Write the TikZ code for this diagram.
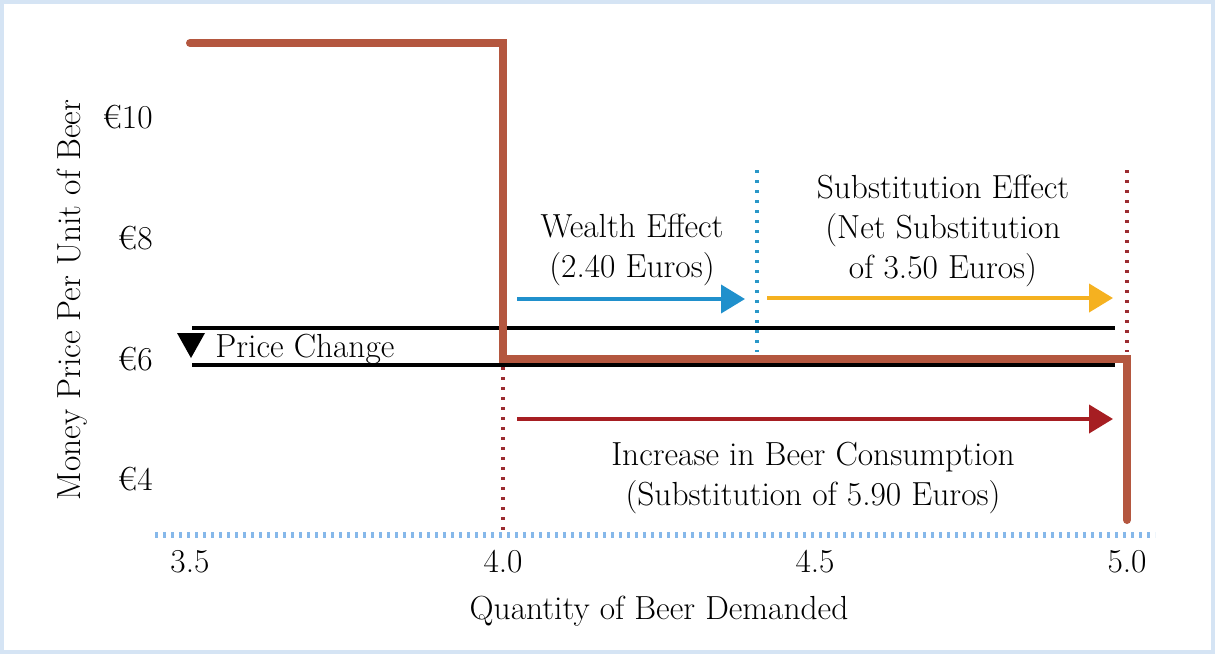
\documentclass[tikz,border=0pt]{standalone}
\usepackage{fontspec}
\usetikzlibrary{arrows.meta}
\definecolor{framebg}{HTML}{D5E4F4}
\definecolor{stepred}{HTML}{B4573F}
\definecolor{axisblue}{HTML}{86B8EA}
\definecolor{dotred}{HTML}{9B2B30}
\definecolor{dotblue}{HTML}{2A97C8}
\definecolor{wealthblue}{HTML}{2090CC}
\definecolor{substyellow}{HTML}{F5B120}
\definecolor{consred}{HTML}{A61E22}
\begin{document}
\begin{tikzpicture}[
        x=0.5pt, y=-0.5pt,
        font=\fontsize{16.7}{20}\selectfont
    ]
    \tikzset{
        lbl/.style = {inner sep=0pt, align=center, anchor=base},
        tick/.style = {inner sep=0pt, anchor=base},
        stepline/.style = {line width=4pt, stepred, line cap=round, line join=miter},
        dotline/.style = {line width=1.75pt, dash pattern=on 1.65pt off 3.35pt},
        axisline/.style = {line width=3pt, axisblue, dash pattern=on 1.7pt off 2.3pt},
        priceline/.style = {line width=2pt, black},
        effect/.style = {line width=2pt, -{Triangle[length=12pt, width=14pt]}},
    }
    \useasboundingbox (0,0) rectangle (1215,654);
    \fill[framebg] (0,0) rectangle (1215,654);
    \fill[white] (4,4) rectangle (1211,650);
    %
    \coordinate (ax0) at (155,535);
    \coordinate (ax1) at (1155,535);
    \draw[axisline] (ax0) -- (ax1);
    %
    \node[tick, anchor=base east] at (153,128) (p10) {€10};
    \node[tick, anchor=base east] at (153,249) (p8) {€8};
    \node[tick, anchor=base east] at (153,370) (p6) {€6};
    \node[tick, anchor=base east] at (153,490) (p4) {€4};
    \node[tick, rotate=90] at (80,300) (ylab) {Money Price Per Unit of Beer};
    %
    \node[tick] at (190,572) (q35) {3.5};
    \node[tick] at (503,572) (q40) {4.0};
    \node[tick] at (815,572) (q45) {4.5};
    \node[tick] at (1127,572) (q50) {5.0};
    \node[tick] at (659,619) (xlab) {Quantity of Beer Demanded};
    %
    \coordinate (pa0) at (192,328);
    \coordinate (pa1) at (1115,328);
    \coordinate (pb0) at (192,365);
    \coordinate (pb1) at (1115,365);
    \draw[priceline] (pa0) -- (pa1);
    \draw[priceline] (pb0) -- (pb1);
    \fill (177,333) -- (205,333) -- (191,358) -- cycle;
    \node[tick, anchor=base west] at (215,357) (pc) {Price Change};
    %
    \coordinate (da0) at (503,367);
    \coordinate (da1) at (503,530);
    \coordinate (db0) at (1127,170);
    \coordinate (db1) at (1127,352);
    \coordinate (dc0) at (757,170);
    \coordinate (dc1) at (757,352);
    \draw[dotline, dotred] (da0) -- (da1);
    \draw[dotline, dotred] (db0) -- (db1);
    \draw[dotline, dotblue] (dc0) -- (dc1);
    %
    \coordinate (s0) at (190,43);
    \coordinate (s1) at (503,43);
    \coordinate (s2) at (503,359);
    \coordinate (s3) at (1127,359);
    \coordinate (s4) at (1127,520);
    \draw[stepline] (s0) -- (s1) -- (s2) -- (s3) -- (s4);
    %
    \coordinate (w0) at (517,299);
    \coordinate (w1) at (745,299);
    \coordinate (y0) at (767,298);
    \coordinate (y1) at (1113,298);
    \coordinate (c0) at (517,419);
    \coordinate (c1) at (1113,419);
    \draw[effect, wealthblue] (w0) -- (w1);
    \draw[effect, substyellow] (y0) -- (y1);
    \draw[effect, consred] (c0) -- (c1);
    %
    \node[lbl] at (632,277) (wl) {Wealth Effect\\(2.40 Euros)};
    \node[lbl] at (943,278) (sl) {Substitution Effect\\(Net Substitution\\of 3.50 Euros)};
    \node[lbl] at (813,505) (cl) {Increase in Beer Consumption\\(Substitution of 5.90 Euros)};
\end{tikzpicture}
\end{document}
